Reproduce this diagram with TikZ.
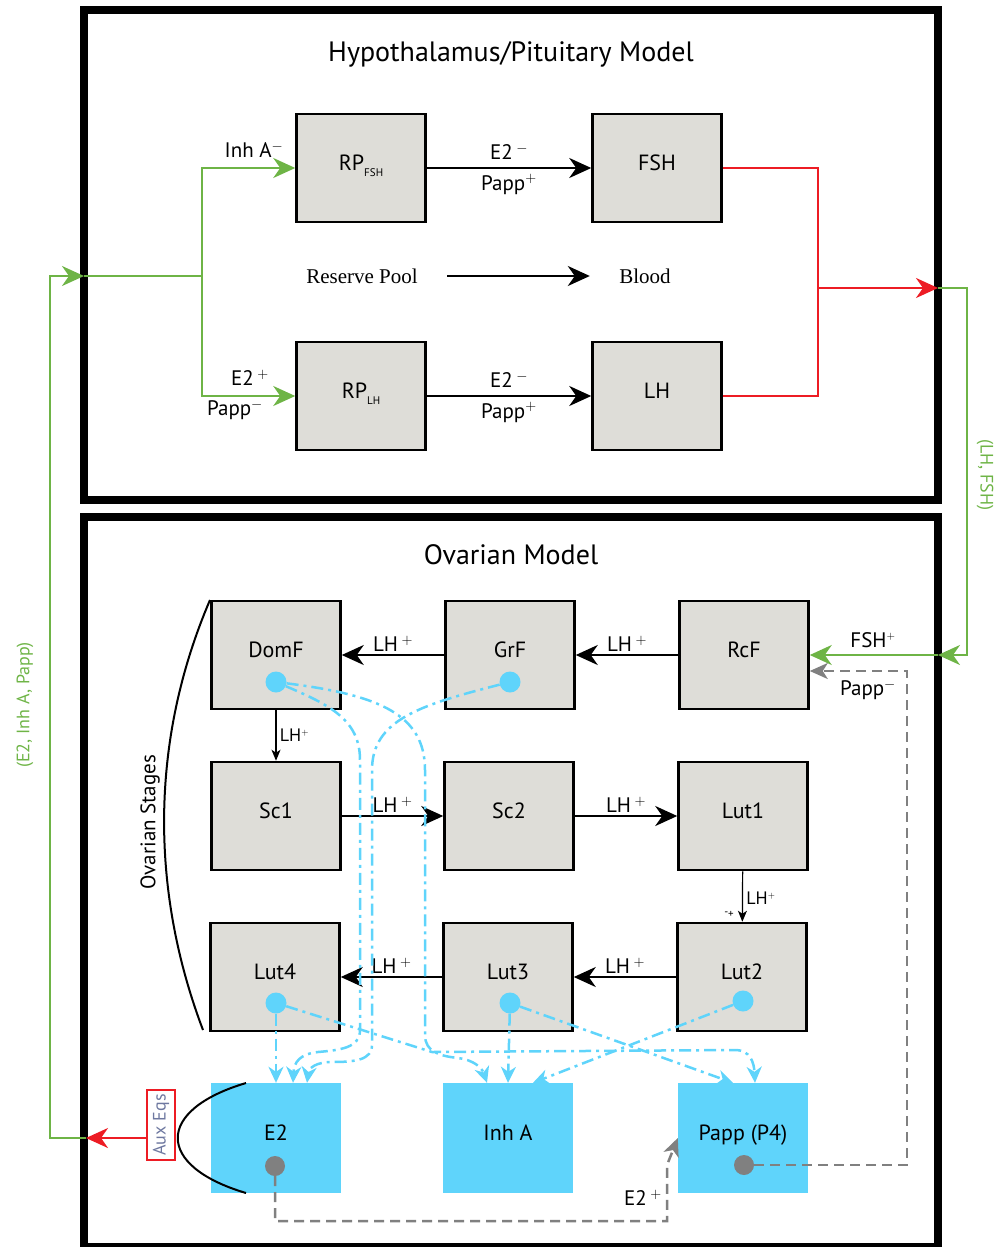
\documentclass[tikz,border=0pt]{standalone}
\usepackage{fontspec}
\setmainfont{PT Sans}
\newfontfamily\poolfont{Liberation Serif}
\usepackage{xcolor}
\usepackage{tikz}
\usetikzlibrary{positioning,arrows.meta,calc}
\definecolor{boxgray}{HTML}{DEDDD8}
\definecolor{auxblue}{HTML}{5FD4FB}
\definecolor{grn}{HTML}{6EB446}
\definecolor{redl}{HTML}{ED1C24}
\definecolor{gryl}{HTML}{808080}
\definecolor{slate}{HTML}{6E78A0}
\newcommand{\bxfont}{\fontsize{22}{25}\selectfont}
\newcommand{\lbfont}{\fontsize{21}{24}\selectfont}
\newcommand{\smfont}{\fontsize{18}{20}\selectfont}
\newcommand{\ttlfont}{\fontsize{28}{32}\selectfont}
\newcommand{\subfsh}[1]{\raisebox{-6pt}{\fontsize{11}{12}\selectfont #1}}

\begin{document}
\begin{tikzpicture}[x=1pt, y=-1pt,
  stagebox/.style={draw=black, line width=2.5pt, fill=boxgray, minimum width=129pt, minimum height=108pt, inner sep=0pt, font=\bxfont, text depth=10pt},
  auxbox/.style={fill=auxblue, minimum width=130pt, minimum height=110pt, inner sep=0pt, font=\bxfont, text depth=10pt},
  lbl/.style={font=\lbfont, inner sep=2pt},
  arr/.style={-{Stealth[length=22pt,width=20pt,inset=7pt]}, line width=2.5pt},
  thinarr/.style={-{Stealth[length=11pt,width=9pt,inset=3pt]}, line width=1.2pt},
  gline/.style={line width=2.5pt, draw=grn},
  garr/.style={gline, -{Stealth[length=22pt,width=20pt,inset=7pt]}},
  rline/.style={line width=2.5pt, draw=redl},
  rarr/.style={rline, -{Stealth[length=22pt,width=20pt,inset=7pt]}},
  gdash/.style={line width=2.5pt, draw=gryl, dash pattern=on 10pt off 6pt, -{Stealth[length=18pt,width=16pt,inset=5pt]}},
  cdash/.style={line width=2.5pt, draw=auxblue, dash pattern=on 12pt off 5pt on 3pt off 5pt, -{Stealth[length=16pt,width=15pt,inset=5pt]}},
  cdot/.style={circle, fill=auxblue, minimum size=21pt, inner sep=0pt},
  gdot/.style={circle, fill=gryl, minimum size=20pt, inner sep=0pt}
]
  \useasboundingbox (0,0) rectangle (1008,1247);

  % frames
  \draw[line width=8pt] (84,10) rectangle (938,500);
  \draw[line width=8pt] (84,517) rectangle (938,1247);

  % HYPOTHALAMUS / PITUITARY
  \node[font=\ttlfont] (hptitle) at (511,54) {Hypothalamus/Pituitary Model};
  \node[stagebox] (rpfsh) at (361,168) {RP\subfsh{FSH}};
  \node[stagebox] (fsh) at (657,168) {FSH};
  \node[stagebox] (rplh) at (361,396) {RP\subfsh{LH}};
  \node[stagebox] (lh) at (657,396) {LH};

  \draw[arr] (rpfsh) -- node[lbl, above=5pt] {E2\,$^{-}$} node[lbl, below=3pt] {Papp$^{+}$} (fsh);
  \draw[arr] (rplh) -- node[lbl, above=5pt] {E2\,$^{-}$} node[lbl, below=3pt] {Papp$^{+}$} (lh);

  \node[font=\poolfont\lbfont] (pool) at (362,276) {Reserve Pool};
  \node[font=\poolfont\lbfont] (blood) at (645,276) {Blood};
  \draw[arr, shorten <=26pt, shorten >=26pt] (pool) -- (blood);

  % feedback in
  \coordinate (hpin) at (84,276);
  \coordinate (fork) at (202,276);
  \draw[gline] (hpin) -- (fork);
  \draw[garr] (fork) |- (rpfsh.west);
  \draw[garr] (fork) |- (rplh.west);
  \node[lbl] (inhlbl) at (254,150) {Inh A$^{-}$};
  \node[lbl] (e2lbl) at (250,378) {E2\,$^{+}$};
  \node[lbl] (papplbl) at (235,410) {Papp$^{-}$};

  % hormones out
  \coordinate (rj) at (818,288);
  \coordinate (hpout) at (938,288);
  \draw[rline] (fsh.east) -| (rj);
  \draw[rline] (lh.east) -| (rj);
  \draw[rarr] (rj) -- (hpout);

  % OVARIAN
  \node[font=\ttlfont] (ovtitle) at (511,555) {Ovarian Model};

  \node[stagebox] (domf) at (276,655) {DomF};
  \node[stagebox] (grf) at (510,655) {GrF};
  \node[stagebox] (rcf) at (744,655) {RcF};
  \node[stagebox] (sc1) at (276,816) {Sc1};
  \node[stagebox] (sc2) at (509,816) {Sc2};
  \node[stagebox] (lut1) at (743,816) {Lut1};
  \node[stagebox] (lut4) at (275,977) {Lut4};
  \node[stagebox] (lut3) at (508,977) {Lut3};
  \node[stagebox] (lut2) at (742,977) {Lut2};

  \node[auxbox] (e2) at (276,1138) {E2};
  \node[auxbox] (inha) at (508,1138) {Inh A};
  \node[auxbox] (papp) at (743,1138) {Papp (P4)};

  \draw[arr] (grf) -- node[lbl, above] {LH\,$^{+}$} (domf);
  \draw[arr] (rcf) -- node[lbl, above] {LH\,$^{+}$} (grf);
  \draw[thinarr] (domf) -- node[font=\smfont, right] {LH$^{\scriptscriptstyle +}$} (sc1);
  \draw[arr] (sc1) -- node[lbl, above] {LH\,$^{+}$} (sc2);
  \draw[arr] (sc2) -- node[lbl, above] {LH\,$^{+}$} (lut1);
  \draw[thinarr] (lut1) -- node[font=\smfont, right, yshift=-2pt] {LH$^{\scriptscriptstyle +}$} (lut2);
  \node[font=\fontsize{11}{11}\selectfont, inner sep=0pt] (pm) at (729,914) {-\raisebox{-2pt}{+}};
  \draw[arr] (lut2) -- node[lbl, above] {LH\,$^{+}$} (lut3);
  \draw[arr] (lut3) -- node[lbl, above] {LH\,$^{+}$} (lut4);

  % stage outputs
  \node[cdot] (domdot) at (276,682) {};
  \node[cdot] (grdot) at (510,682) {};
  \node[cdot] (l4dot) at (276,1003) {};
  \node[cdot] (l3dot) at (510,1003) {};
  \node[cdot] (l2dot) at (743,1001) {};
  \node[gdot] (edot) at (275,1166) {};
  \node[gdot] (pdot) at (744,1165) {};

  \draw[cdash] (domdot) .. controls (330,705) and (360,720) .. (360,760) -- (360,1030)
    .. controls (360,1048) and (340,1050) .. (318,1052) .. controls (300,1054) and (294,1062) .. ([xshift=17pt]e2.north);
  \draw[cdash] (grdot) .. controls (420,705) and (372,720) .. (372,770) -- (372,1045)
    .. controls (372,1060) and (355,1062) .. (332,1062) .. controls (316,1062) and (309,1068) .. ([xshift=31pt]e2.north);
  \draw[cdash] (domdot) .. controls (380,695) and (425,715) .. (425,770) -- (425,1035)
    .. controls (425,1052) and (440,1056) .. (458,1058) .. controls (474,1060) and (482,1068) .. ([xshift=-21pt]inha.north);
  \draw[cdash] (l4dot) -- (e2.north);
  \draw[cdash] (l4dot) -- (432,1052) -- (735,1050) .. controls (750,1050) and (754,1062) .. ([xshift=12pt]papp.north);
  \draw[cdash] (l3dot) -- (inha.north);
  \draw[cdash] (l3dot) -- ([xshift=-10pt]papp.north);
  \draw[cdash] (l2dot) -- ([xshift=25pt]inha.north);

  % feedback to RcF and Papp
  \coordinate (ovin) at (938,655);
  \draw[garr] (hpout) -- ++(29,0) |- (ovin);
  \draw[garr] (ovin) -- (rcf.east);
  \node[lbl] (fshlbl) at (873,640) {FSH$^{\scriptscriptstyle +}$};

  \coordinate (pturn) at (907,671);
  \draw[gdash] (pdot) -| (pturn) -- (pturn -| rcf.east);
  \node[lbl] (papmlbl) at (868,690) {Papp$^{-}$};

  \coordinate (ecorner) at (667,1221);
  \coordinate (ebend) at (667,1165);
  \draw[gdash] (edot) |- (ecorner) -- (ebend) -- (papp.west);
  \node[lbl] (e2plbl) at (643,1198) {E2\,$^{+}$};

  % brackets
  \draw[line width=2pt] (210,600) .. controls (150,740) and (150,890) .. (203,1030);
  \node[font=\lbfont, rotate=90] (stages) at (150,822) {Ovarian Stages};
  \draw[line width=2pt] (246,1083) .. controls (155,1110) and (155,1166) .. (246,1193);

  % aux eqs back to hypothalamus
  \node[draw=redl, line width=2.5pt, rotate=90, minimum width=70pt, minimum height=28pt, inner sep=0pt, font=\smfont, text=slate] (aux) at (161,1125) {Aux Eqs};
  \coordinate (auxout) at (86,1138);
  \draw[rarr] (aux.north |- auxout) -- (auxout);
  \draw[garr] (auxout) -- ++(-36,0) |- (hpin);
  \node[font=\smfont, text=grn, rotate=90] (fblbl) at (25,705) {(E2, Inh A, Papp)};
  \node[font=\smfont, text=grn, rotate=-90] (lhfsh) at (985,475) {(LH, FSH)};

\end{tikzpicture}
\end{document}
